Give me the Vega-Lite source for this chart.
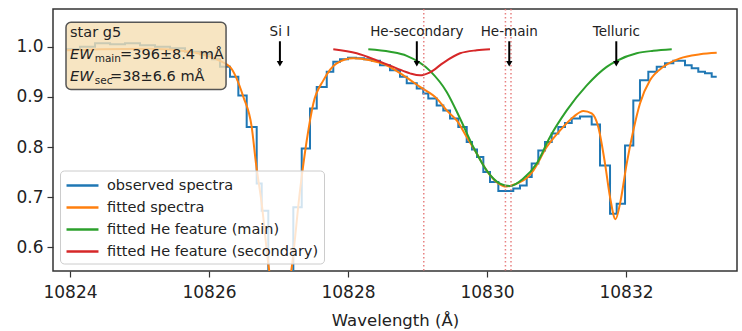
{
 "$schema": "https://vega.github.io/schema/vega-lite/v6.json",
 "width": 684, "height": 262,
 "autosize": {"type": "none"},
 "padding": {"left": 53, "top": 9, "right": 5, "bottom": 60},
 "background": "white",
 "config": {
  "font": "DejaVu Sans",
  "view": {"stroke": "#333", "strokeWidth": 1.5},
  "axis": {"grid": false, "domain": false, "tickSize": 6, "tickColor": "#333", "tickWidth": 1.2, "labelFontSize": 17, "labelColor": "#222", "titleColor": "#222", "titleFontWeight": "normal", "labelFont": "DejaVu Sans", "titleFont": "DejaVu Sans"}
 },
 "datasets": {
  "obs": [
   {"wl": 10823.942, "flux": 0.995}, {"wl": 10824.144, "flux": 1.0}, {"wl": 10824.36, "flux": 1.007}, {"wl": 10824.576, "flux": 1.005},
   {"wl": 10824.791, "flux": 1.007}, {"wl": 10825.007, "flux": 1.003}, {"wl": 10825.223, "flux": 1.0}, {"wl": 10825.439, "flux": 0.997},
   {"wl": 10825.655, "flux": 0.99}, {"wl": 10825.871, "flux": 0.985}, {"wl": 10826.043, "flux": 0.975}, {"wl": 10826.158, "flux": 0.96},
   {"wl": 10826.302, "flux": 0.94}, {"wl": 10826.422, "flux": 0.903}, {"wl": 10826.542, "flux": 0.84}, {"wl": 10826.686, "flux": 0.727},
   {"wl": 10826.758, "flux": 0.673}, {"wl": 10826.853, "flux": 0.45}, {"wl": 10827.213, "flux": 0.68}, {"wl": 10827.334, "flux": 0.797},
   {"wl": 10827.453, "flux": 0.877}, {"wl": 10827.55, "flux": 0.92}, {"wl": 10827.694, "flux": 0.95}, {"wl": 10827.788, "flux": 0.97},
   {"wl": 10827.885, "flux": 0.975}, {"wl": 10828.0, "flux": 0.978}, {"wl": 10828.115, "flux": 0.977}, {"wl": 10828.23, "flux": 0.975},
   {"wl": 10828.345, "flux": 0.972}, {"wl": 10828.46, "flux": 0.963}, {"wl": 10828.604, "flux": 0.953}, {"wl": 10828.748, "flux": 0.94},
   {"wl": 10828.845, "flux": 0.927}, {"wl": 10828.989, "flux": 0.917}, {"wl": 10829.083, "flux": 0.907}, {"wl": 10829.155, "flux": 0.897},
   {"wl": 10829.276, "flux": 0.883}, {"wl": 10829.371, "flux": 0.873}, {"wl": 10829.468, "flux": 0.857}, {"wl": 10829.587, "flux": 0.84},
   {"wl": 10829.708, "flux": 0.81}, {"wl": 10829.784, "flux": 0.795}, {"wl": 10829.856, "flux": 0.78}, {"wl": 10829.947, "flux": 0.75},
   {"wl": 10830.043, "flux": 0.73}, {"wl": 10830.163, "flux": 0.712}, {"wl": 10830.378, "flux": 0.717}, {"wl": 10830.475, "flux": 0.723},
   {"wl": 10830.571, "flux": 0.74}, {"wl": 10830.643, "flux": 0.767}, {"wl": 10830.738, "flux": 0.793}, {"wl": 10830.835, "flux": 0.81},
   {"wl": 10830.931, "flux": 0.827}, {"wl": 10831.026, "flux": 0.84}, {"wl": 10831.122, "flux": 0.848}, {"wl": 10831.219, "flux": 0.857},
   {"wl": 10831.338, "flux": 0.861}, {"wl": 10831.506, "flux": 0.845}, {"wl": 10831.626, "flux": 0.763}, {"wl": 10831.77, "flux": 0.667},
   {"wl": 10831.866, "flux": 0.687}, {"wl": 10831.986, "flux": 0.803}, {"wl": 10832.105, "flux": 0.893}, {"wl": 10832.201, "flux": 0.933},
   {"wl": 10832.321, "flux": 0.95}, {"wl": 10832.442, "flux": 0.96}, {"wl": 10832.561, "flux": 0.967}, {"wl": 10832.681, "flux": 0.972},
   {"wl": 10832.849, "flux": 0.963}, {"wl": 10832.945, "flux": 0.957}, {"wl": 10833.04, "flux": 0.95}, {"wl": 10833.137, "flux": 0.947},
   {"wl": 10833.233, "flux": 0.94}, {"wl": 10833.305, "flux": 0.94}
  ],
  "fit": [
   {"wl": 10823.957, "flux": 0.993}, {"wl": 10824.432, "flux": 0.995}, {"wl": 10825.151, "flux": 0.996}, {"wl": 10825.727, "flux": 0.99},
   {"wl": 10826.014, "flux": 0.98}, {"wl": 10826.158, "flux": 0.972}, {"wl": 10826.254, "flux": 0.965}, {"wl": 10826.302, "flux": 0.96},
   {"wl": 10826.494, "flux": 0.9}, {"wl": 10826.614, "flux": 0.84}, {"wl": 10826.676, "flux": 0.767}, {"wl": 10826.758, "flux": 0.687},
   {"wl": 10826.853, "flux": 0.567}, {"wl": 10826.94, "flux": 0.49}, {"wl": 10827.02, "flux": 0.47}, {"wl": 10827.1, "flux": 0.49},
   {"wl": 10827.19, "flux": 0.56}, {"wl": 10827.309, "flux": 0.713}, {"wl": 10827.406, "flux": 0.813}, {"wl": 10827.501, "flux": 0.887},
   {"wl": 10827.645, "flux": 0.933}, {"wl": 10827.837, "flux": 0.967}, {"wl": 10828.076, "flux": 0.977}, {"wl": 10828.317, "flux": 0.973},
   {"wl": 10828.557, "flux": 0.963}, {"wl": 10828.796, "flux": 0.943}, {"wl": 10829.036, "flux": 0.92}, {"wl": 10829.276, "flux": 0.897},
   {"wl": 10829.42, "flux": 0.873}, {"wl": 10829.564, "flux": 0.853}, {"wl": 10829.708, "flux": 0.82}, {"wl": 10829.852, "flux": 0.787},
   {"wl": 10829.996, "flux": 0.753}, {"wl": 10830.14, "flux": 0.73}, {"wl": 10830.283, "flux": 0.721}, {"wl": 10830.427, "flux": 0.727},
   {"wl": 10830.571, "flux": 0.738}, {"wl": 10830.666, "flux": 0.753}, {"wl": 10830.859, "flux": 0.8}, {"wl": 10831.05, "flux": 0.833},
   {"wl": 10831.242, "flux": 0.86}, {"wl": 10831.386, "flux": 0.872}, {"wl": 10831.506, "flux": 0.867}, {"wl": 10831.601, "flux": 0.84},
   {"wl": 10831.698, "flux": 0.767}, {"wl": 10831.77, "flux": 0.7}, {"wl": 10831.849, "flux": 0.656}, {"wl": 10831.914, "flux": 0.687},
   {"wl": 10832.01, "flux": 0.767}, {"wl": 10832.105, "flux": 0.833}, {"wl": 10832.201, "flux": 0.887}, {"wl": 10832.345, "flux": 0.933},
   {"wl": 10832.537, "flux": 0.96}, {"wl": 10832.777, "flux": 0.977}, {"wl": 10833.065, "flux": 0.985}, {"wl": 10833.305, "flux": 0.988}
  ],
  "main": [
   {"wl": 10828.292, "flux": 0.995}, {"wl": 10828.604, "flux": 0.99}, {"wl": 10828.845, "flux": 0.982}, {"wl": 10829.18, "flux": 0.952},
   {"wl": 10829.42, "flux": 0.91}, {"wl": 10829.612, "flux": 0.857}, {"wl": 10829.803, "flux": 0.8}, {"wl": 10829.996, "flux": 0.753},
   {"wl": 10830.187, "flux": 0.727}, {"wl": 10830.331, "flux": 0.722}, {"wl": 10830.522, "flux": 0.737}, {"wl": 10830.715, "flux": 0.767},
   {"wl": 10830.906, "flux": 0.82}, {"wl": 10831.147, "flux": 0.873}, {"wl": 10831.435, "flux": 0.923}, {"wl": 10831.722, "flux": 0.96},
   {"wl": 10831.866, "flux": 0.972}, {"wl": 10832.154, "flux": 0.987}, {"wl": 10832.393, "flux": 0.992}, {"wl": 10832.658, "flux": 0.995}
  ],
  "sec": [
   {"wl": 10827.788, "flux": 0.995}, {"wl": 10828.125, "flux": 0.987}, {"wl": 10828.413, "flux": 0.973}, {"wl": 10828.701, "flux": 0.957},
   {"wl": 10828.892, "flux": 0.947}, {"wl": 10829.036, "flux": 0.943}, {"wl": 10829.18, "flux": 0.949}, {"wl": 10829.371, "flux": 0.968},
   {"wl": 10829.612, "flux": 0.987}, {"wl": 10829.852, "flux": 0.993}, {"wl": 10830.043, "flux": 0.995}
  ],
  "helines": [{"wl": 10829.09}, {"wl": 10830.265}, {"wl": 10830.345}],
  "features": [
   {"name": "Si I", "wl": 10827.02},
   {"name": "He-secondary", "wl": 10828.99},
   {"name": "He-main", "wl": 10830.32},
   {"name": "Telluric", "wl": 10831.86}
  ],
  "one": [{"k": 1}]
 },
 "layer": [
  {
   "data": {"name": "obs"},
   "mark": {"type": "line", "interpolate": "step-after", "strokeWidth": 2, "clip": true},
   "encoding": {
    "x": {"field": "wl", "type": "quantitative", "scale": {"domain": [10823.755, 10833.597], "nice": false, "zero": false},
          "axis": {"title": "Wavelength (Å)", "values": [10824, 10826, 10828, 10830, 10832], "format": "d", "labelPadding": 7, "titleFontSize": 16.5, "titlePadding": 12}},
    "y": {"field": "flux", "type": "quantitative", "scale": {"domain": [0.5526, 1.0754], "nice": false, "zero": false},
          "axis": {"title": null, "values": [0.6, 0.7, 0.8, 0.9, 1.0], "format": ".1f", "labelPadding": 4}},
    "color": {"datum": "observed spectra", "type": "nominal",
      "scale": {"domain": ["observed spectra", "fitted spectra", "fitted He feature (main)", "fitted He feature (secondary)"], "range": ["#1f77b4", "#ff7f0e", "#2ca02c", "#d62728"]},
      "legend": {"title": null, "orient": "none", "legendX": 7, "legendY": 161.5, "symbolType": "M-1.88,0H1.88", "symbolSize": 289, "symbolStrokeWidth": 2.5, "symbolOffset": 7.5,
        "labelFontSize": 14.5, "labelColor": "#222", "labelFont": "DejaVu Sans", "labelOffset": 14.5, "labelLimit": 400, "fillColor": "rgba(255,255,255,0.8)",
        "strokeColor": "#cccccc", "cornerRadius": 4, "padding": 5, "rowPadding": 5}}
   }
  },
  {
   "data": {"name": "fit"},
   "mark": {"type": "line", "interpolate": "monotone", "strokeWidth": 2, "clip": true},
   "encoding": {
    "x": {"field": "wl", "type": "quantitative", "scale": {"domain": [10823.755, 10833.597], "nice": false, "zero": false}},
    "y": {"field": "flux", "type": "quantitative", "scale": {"domain": [0.5526, 1.0754], "nice": false, "zero": false}},
    "color": {"datum": "fitted spectra", "type": "nominal"}
   }
  },
  {
   "data": {"name": "main"},
   "mark": {"type": "line", "interpolate": "monotone", "strokeWidth": 2, "clip": true},
   "encoding": {
    "x": {"field": "wl", "type": "quantitative", "scale": {"domain": [10823.755, 10833.597], "nice": false, "zero": false}},
    "y": {"field": "flux", "type": "quantitative", "scale": {"domain": [0.5526, 1.0754], "nice": false, "zero": false}},
    "color": {"datum": "fitted He feature (main)", "type": "nominal"}
   }
  },
  {
   "data": {"name": "sec"},
   "mark": {"type": "line", "interpolate": "monotone", "strokeWidth": 2, "clip": true},
   "encoding": {
    "x": {"field": "wl", "type": "quantitative", "scale": {"domain": [10823.755, 10833.597], "nice": false, "zero": false}},
    "y": {"field": "flux", "type": "quantitative", "scale": {"domain": [0.5526, 1.0754], "nice": false, "zero": false}},
    "color": {"datum": "fitted He feature (secondary)", "type": "nominal"}
   }
  },
  {
   "data": {"name": "helines"},
   "mark": {"type": "rule", "color": "#e57373", "strokeWidth": 1.5, "strokeDash": [1.5, 2.5], "opacity": 0.9},
   "encoding": {
    "x": {"field": "wl", "type": "quantitative", "scale": {"domain": [10823.755, 10833.597], "nice": false, "zero": false}}
   }
  },
  {
   "data": {"name": "features"},
   "mark": {"type": "rule", "color": "black", "strokeWidth": 2},
   "encoding": {
    "x": {"field": "wl", "type": "quantitative", "scale": {"domain": [10823.755, 10833.597], "nice": false, "zero": false}},
    "y": {"datum": 1.011, "type": "quantitative", "scale": {"domain": [0.5526, 1.0754], "nice": false, "zero": false}},
    "y2": {"datum": 0.968}
   }
  },
  {
   "data": {"name": "features"},
   "mark": {"type": "point", "shape": "triangle-down", "filled": true, "color": "black", "size": 40, "opacity": 1},
   "encoding": {
    "x": {"field": "wl", "type": "quantitative", "scale": {"domain": [10823.755, 10833.597], "nice": false, "zero": false}},
    "y": {"datum": 0.966, "type": "quantitative", "scale": {"domain": [0.5526, 1.0754], "nice": false, "zero": false}}
   }
  },
  {
   "data": {"name": "features"},
   "mark": {"type": "text", "fontSize": 13.5, "font": "DejaVu Sans", "color": "#222", "align": "center", "baseline": "middle"},
   "encoding": {
    "x": {"field": "wl", "type": "quantitative", "scale": {"domain": [10823.755, 10833.597], "nice": false, "zero": false}},
    "y": {"datum": 1.029, "type": "quantitative", "scale": {"domain": [0.5526, 1.0754], "nice": false, "zero": false}},
    "text": {"field": "name"}
   }
  },
  {
   "data": {"name": "one"},
   "mark": {"type": "rect", "fill": "#f5deb3", "fillOpacity": 0.8, "stroke": "#555", "strokeWidth": 1.5, "cornerRadius": 5},
   "encoding": {
    "x": {"datum": 10823.942, "type": "quantitative"},
    "x2": {"datum": 10826.245},
    "y": {"datum": 1.049, "type": "quantitative"},
    "y2": {"datum": 0.915}
   }
  },
  {
   "data": {"name": "one"},
   "mark": {"type": "text", "text": "star g5", "fontSize": 14.5, "align": "left", "baseline": "middle", "color": "#222"},
   "encoding": {"x": {"datum": 10824.0, "type": "quantitative"}, "y": {"datum": 1.027, "type": "quantitative"}}
  },
  {
   "data": {"name": "one"},
   "mark": {"type": "text", "text": "EW", "fontSize": 14.5, "fontStyle": "italic", "align": "left", "baseline": "middle", "color": "#222"},
   "encoding": {"x": {"datum": 10824.0, "type": "quantitative"}, "y": {"datum": 0.983, "type": "quantitative"}}
  },
  {
   "data": {"name": "one"},
   "mark": {"type": "text", "text": "main", "fontSize": 10.5, "align": "left", "baseline": "middle", "color": "#222"},
   "encoding": {"x": {"datum": 10824.355, "type": "quantitative"}, "y": {"datum": 0.975, "type": "quantitative"}}
  },
  {
   "data": {"name": "one"},
   "mark": {"type": "text", "text": "=396±8.4 mÅ", "fontSize": 14.5, "align": "left", "baseline": "middle", "color": "#222"},
   "encoding": {"x": {"datum": 10824.72, "type": "quantitative"}, "y": {"datum": 0.983, "type": "quantitative"}}
  },
  {
   "data": {"name": "one"},
   "mark": {"type": "text", "text": "EW", "fontSize": 14.5, "fontStyle": "italic", "align": "left", "baseline": "middle", "color": "#222"},
   "encoding": {"x": {"datum": 10824.0, "type": "quantitative"}, "y": {"datum": 0.939, "type": "quantitative"}}
  },
  {
   "data": {"name": "one"},
   "mark": {"type": "text", "text": "sec", "fontSize": 10.5, "align": "left", "baseline": "middle", "color": "#222"},
   "encoding": {"x": {"datum": 10824.355, "type": "quantitative"}, "y": {"datum": 0.931, "type": "quantitative"}}
  },
  {
   "data": {"name": "one"},
   "mark": {"type": "text", "text": "=38±6.6 mÅ", "fontSize": 14.5, "align": "left", "baseline": "middle", "color": "#222"},
   "encoding": {"x": {"datum": 10824.575, "type": "quantitative"}, "y": {"datum": 0.939, "type": "quantitative"}}
  }
 ]
}
